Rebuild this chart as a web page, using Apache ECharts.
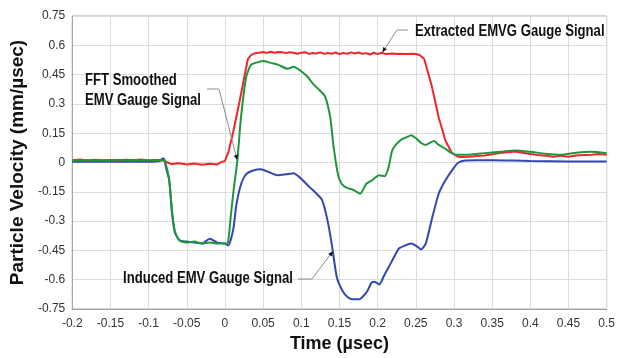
<!DOCTYPE html>
<html>
<head>
<meta charset="utf-8">
<script src="https://cdn.jsdelivr.net/npm/echarts@6/dist/echarts.min.js"></script>
<style>
html,body{margin:0;padding:0;background:#fff;}
#c{width:618px;height:358px;}
</style>
</head>
<body>
<div id="c"></div>
<script>
// ---- Data ----
const xTicks = [-0.2,-0.15,-0.1,-0.05,0,0.05,0.1,0.15,0.2,0.25,0.3,0.35,0.4,0.45,0.5];
const yTicks = [-0.75,-0.6,-0.45,-0.3,-0.15,0,0.15,0.3,0.45,0.6,0.75];

const redTime = [-0.2,-0.19,-0.18,-0.17,-0.16,-0.15,-0.14,-0.13,-0.12,-0.11,-0.1,-0.09,-0.08,-0.075,-0.07,-0.06,-0.05,-0.04,-0.03,-0.02,-0.01,-0.005,0,0.005,0.011,0.019,0.025,0.03,
 0.035,0.04,0.045,0.05,0.055,0.06,0.065,0.07,0.075,0.08,0.085,0.09,0.095,0.1,0.105,0.11,0.115,0.12,0.125,0.13,0.135,0.14,0.145,0.15,0.155,0.16,0.165,0.17,0.175,0.18,0.185,0.19,0.195,0.2,0.205,0.21,0.215,0.22,0.225,0.23,0.235,0.24,0.245,0.25,0.255,
 0.261,0.271,0.28,0.289,0.297,0.305,0.31,0.32,0.33,0.34,0.35,0.36,0.37,0.38,0.39,0.4,0.41,0.42,0.43,0.44,0.45,0.46,0.47,0.48,0.49,0.5];
const redValue = [0.012,0.015,0.010,0.014,0.011,0.013,0.010,0.014,0.012,0.016,0.010,0.013,0.010,0.0,-0.008,-0.004,-0.010,-0.005,-0.012,-0.006,-0.010,0.002,0.008,0.06,0.16,0.31,0.43,0.53,
 0.552,0.560,0.562,0.566,0.561,0.567,0.562,0.566,0.564,0.560,0.565,0.562,0.557,0.562,0.565,0.556,0.561,0.558,0.564,0.556,0.561,0.557,0.563,0.555,0.561,0.557,0.564,0.558,0.563,0.556,0.560,0.553,0.562,0.555,0.562,0.556,0.557,0.558,0.556,0.557,0.556,0.556,0.557,0.555,0.550,
 0.53,0.39,0.23,0.11,0.05,0.03,0.028,0.03,0.033,0.036,0.042,0.048,0.052,0.056,0.05,0.044,0.038,0.034,0.03,0.034,0.03,0.036,0.038,0.04,0.043,0.04];

const greenTime = [-0.2,-0.18,-0.16,-0.14,-0.12,-0.1,-0.09,-0.08,-0.078,-0.073,-0.069,-0.065,-0.059,-0.05,-0.04,-0.03,-0.02,-0.01,0.0,0.004,0.008,0.012,0.016,0.021,0.028,0.034,0.04,0.05,0.06,0.07,0.082,0.09,0.099,0.108,0.116,0.124,0.131,0.138,0.142,0.148,0.153,0.16,0.168,0.177,0.185,0.193,0.202,0.209,0.214,0.219,0.226,0.232,0.238,0.244,0.25,0.257,0.263,0.268,0.274,0.28,0.289,0.296,0.302,0.32,0.34,0.36,0.38,0.4,0.42,0.44,0.46,0.48,0.5];
const greenValue = [0.01,0.012,0.01,0.013,0.011,0.012,0.01,0.012,0.0,-0.09,-0.26,-0.36,-0.40,-0.41,-0.405,-0.415,-0.41,-0.415,-0.415,-0.41,-0.26,-0.12,0.0,0.23,0.44,0.50,0.51,0.52,0.51,0.5,0.48,0.49,0.47,0.44,0.40,0.37,0.34,0.23,0.09,-0.06,-0.11,-0.13,-0.14,-0.16,-0.11,-0.09,-0.065,-0.07,-0.03,0.06,0.10,0.12,0.13,0.14,0.125,0.10,0.09,0.10,0.11,0.09,0.07,0.05,0.04,0.04,0.048,0.055,0.062,0.055,0.045,0.04,0.05,0.055,0.048];

const blueTime = [-0.2,-0.15,-0.1,-0.09,-0.085,-0.082,-0.0797,-0.077,-0.073,-0.0693,-0.0655,-0.059,-0.05,-0.04,-0.03,-0.02,-0.01,0.0,0.0044,0.011,0.0148,0.0212,0.0277,0.038,0.047,0.058,0.069,0.08,0.0898,0.099,0.108,0.112,0.12,0.127,0.134,0.14,0.1467,0.1545,0.161,0.167,0.176,0.182,0.187,0.192,0.196,0.202,0.209,0.218,0.228,0.236,0.2437,0.25,0.2567,0.263,0.271,0.28,0.289,0.2993,0.306,0.315,0.33,0.35,0.38,0.4,0.45,0.5];
const blueValue = [0.004,0.004,0.004,0.005,0.008,0.02,0.018,-0.03,-0.09,-0.26,-0.36,-0.40,-0.405,-0.41,-0.415,-0.39,-0.41,-0.415,-0.425,-0.34,-0.22,-0.11,-0.06,-0.04,-0.035,-0.05,-0.065,-0.06,-0.055,-0.08,-0.115,-0.13,-0.16,-0.19,-0.29,-0.42,-0.59,-0.66,-0.69,-0.70,-0.70,-0.68,-0.655,-0.615,-0.61,-0.625,-0.575,-0.51,-0.44,-0.425,-0.415,-0.425,-0.445,-0.415,-0.29,-0.16,-0.09,-0.03,0.0,0.01,0.012,0.012,0.01,0.008,0.005,0.005];

const labels = {
  red: 'Extracted EMVG Gauge Signal',
  green: ['FFT Smoothed', 'EMV Gauge Signal'],
  blue: 'Induced EMV Gauge Signal'
};
// arrow targets (data coords) where leaders touch the curves
const redTarget = [0.2062, 0.564];
const greenTarget = [0.016, 0.013];
const blueTarget = [0.1415, -0.454];

function zip(a, b) { return a.map((v, i) => [v, b[i]]); }
function fmt(v) { const r = Math.round(v * 100) / 100; return String(r); }

const chart = echarts.init(document.getElementById('c'), null, {renderer: 'canvas'});
const FONT = 'Liberation Sans, Arial, sans-serif';

chart.setOption({
  animation: false,
  grid: {left: 69, right: 8, top: 16, bottom: 43, show: true, borderColor: '#a6a6a6', borderWidth: 1, containLabel: false},
  xAxis: {
    type: 'value', min: -0.2, max: 0.5, interval: 0.05,
    axisLine: {show: true, onZero: false, lineStyle: {color: '#a6a6a6'}},
    axisTick: {show: false},
    splitLine: {show: true, lineStyle: {color: '#dcdcdc', width: 1}},
    axisLabel: {formatter: fmt, color: '#333', fontSize: 12, fontFamily: FONT, margin: 9},
    name: 'Time (\u00b5sec)', nameLocation: 'middle', nameGap: 26,
    nameTextStyle: {fontSize: 18, fontWeight: 'bold', color: '#111', fontFamily: FONT}
  },
  yAxis: {
    type: 'value', min: -0.75, max: 0.75, interval: 0.15,
    axisLine: {show: true, onZero: false, lineStyle: {color: '#a6a6a6'}},
    axisTick: {show: false},
    splitLine: {show: true, lineStyle: {color: '#dcdcdc', width: 1}},
    axisLabel: {formatter: fmt, color: '#333', fontSize: 12, fontFamily: FONT, margin: 7},
    name: 'Particle Velocity (mm/\u00b5sec)', nameLocation: 'middle', nameGap: 44, nameRotate: 90,
    nameTextStyle: {fontSize: 19, fontWeight: 'bold', color: '#111', fontFamily: FONT}
  },
  series: [
    {type: 'line', name: 'Extracted', data: zip(redTime, redValue), showSymbol: false, lineStyle: {color: '#f0262b', width: 2}, z: 3},
    {type: 'line', name: 'FFT', data: zip(greenTime, greenValue), showSymbol: false, smooth: 0.2, lineStyle: {color: '#1f963c', width: 2}, z: 4},
    {type: 'line', name: 'Induced', data: zip(blueTime, blueValue), showSymbol: false, smooth: 0.2, lineStyle: {color: '#3347b0', width: 2}, z: 2}
  ]
});

const rP = chart.convertToPixel({gridIndex: 0}, redTarget);
const gP = chart.convertToPixel({gridIndex: 0}, greenTarget);
const bP = chart.convertToPixel({gridIndex: 0}, blueTarget);

function leader(points) {
  return {type: 'polyline', shape: {points: points}, style: {stroke: '#8c8c8c', lineWidth: 1, fill: null}, z: 100};
}
function arrowHead(from, to) {
  const ang = Math.atan2(to[1] - from[1], to[0] - from[0]);
  const L = 5, W = 2.2;
  const bx = to[0] - L * Math.cos(ang), by = to[1] - L * Math.sin(ang);
  const nx = -Math.sin(ang) * W, ny = Math.cos(ang) * W;
  return {type: 'polygon', shape: {points: [to, [bx + nx, by + ny], [bx - nx, by - ny]]}, style: {fill: '#111'}, z: 101};
}
function label(text, x, y) {
  return {type: 'text', x: x, y: y, scaleX: 0.82, originX: 0, originY: 0, z: 102,
    style: {text: text, font: 'bold 16px ' + FONT, fill: '#111', verticalAlign: 'middle', textVerticalAlign: 'middle'}};
}

chart.setOption({
  graphic: [
    label(labels.red, 415, 32),
    leader([[408, 30], [397, 30], rP]), arrowHead([397, 30], rP),
    label(labels.green[0], 85, 81),
    label(labels.green[1], 85, 101),
    leader([[207, 89], [219, 89], gP]), arrowHead([219, 89], gP),
    label(labels.blue, 123, 279),
    leader([[298, 279], [312, 279], bP]), arrowHead([312, 279], bP)
  ]
});
</script>
</body>
</html>
